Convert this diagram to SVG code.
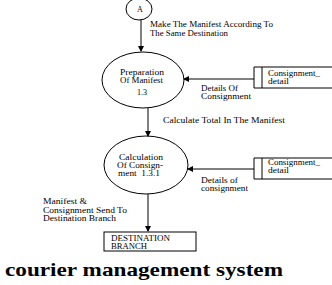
<svg xmlns="http://www.w3.org/2000/svg" width="332" height="285" viewBox="0 0 332 285">
<style>
.s{fill:none;stroke:#000;stroke-width:1}
.t{font-family:"Liberation Serif","Times New Roman",serif;font-size:8px;fill:#000}
.title{font-family:"Liberation Serif","Times New Roman",serif;font-size:19px;font-weight:bold;fill:#000}
</style>
<defs>
<marker id="ah" markerWidth="6" markerHeight="6" refX="5" refY="3" orient="auto" markerUnits="userSpaceOnUse">
<path d="M0,0 L6,3 L0,6 z" fill="#000"/>
</marker>
</defs>
<rect width="332" height="285" fill="#fff"/>
<g id="connectors">
<line class="s" x1="141" y1="20" x2="141" y2="51" marker-end="url(#ah)"/>
<line class="s" x1="254" y1="79" x2="184" y2="79" marker-end="url(#ah)"/>
<line class="s" x1="148" y1="108" x2="148" y2="136" marker-end="url(#ah)"/>
<line class="s" x1="254" y1="169" x2="188" y2="169" marker-end="url(#ah)"/>
<line class="s" x1="148" y1="194" x2="148" y2="231" marker-end="url(#ah)"/>
<text class="t" x="150" y="27" textLength="123" lengthAdjust="spacingAndGlyphs">Make The Manifest According To</text>
<text class="t" x="150" y="36" textLength="78" lengthAdjust="spacingAndGlyphs">The Same Destination</text>
<text class="t" x="201" y="91" textLength="37" lengthAdjust="spacingAndGlyphs">Details Of</text>
<text class="t" x="201" y="99" textLength="50" lengthAdjust="spacingAndGlyphs">Consignment</text>
<text class="t" x="163" y="123" textLength="122" lengthAdjust="spacingAndGlyphs">Calculate Total In The Manifest</text>
<text class="t" x="201" y="183" textLength="37" lengthAdjust="spacingAndGlyphs">Details of</text>
<text class="t" x="201" y="191" textLength="47" lengthAdjust="spacingAndGlyphs">consignment</text>
<text class="t" x="43" y="204" textLength="44" lengthAdjust="spacingAndGlyphs">Manifest &amp;</text>
<text class="t" x="43" y="213" textLength="84" lengthAdjust="spacingAndGlyphs">Consignment Send To</text>
<text class="t" x="43" y="221" textLength="73" lengthAdjust="spacingAndGlyphs">Destination Branch</text>
</g>
<g id="nodeA">
<ellipse class="s" cx="139" cy="9" rx="13" ry="11"/>
<text class="t" x="140" y="12" text-anchor="middle">A</text>
</g>
<g id="prep">
<ellipse class="s" cx="143" cy="80" rx="41" ry="28"/>
<text class="t" x="120" y="75" textLength="44" lengthAdjust="spacingAndGlyphs">Preparation</text>
<text class="t" x="120" y="83" textLength="43" lengthAdjust="spacingAndGlyphs">Of Manifest</text>
<text class="t" x="142" y="95" text-anchor="middle">1.3</text>
</g>
<g id="store1">
<path class="s" d="M332,67 H254 V88 H332 M262,67 V88"/>
<text class="t" x="268" y="76" textLength="52" lengthAdjust="spacingAndGlyphs">Consignment_</text>
<text class="t" x="268" y="84" textLength="21" lengthAdjust="spacingAndGlyphs">detail</text>
</g>
<g id="calc">
<ellipse class="s" cx="146" cy="165" rx="42" ry="29"/>
<text class="t" x="119" y="160" textLength="44" lengthAdjust="spacingAndGlyphs">Calculation</text>
<text class="t" x="117" y="168" textLength="46" lengthAdjust="spacingAndGlyphs">Of Consign-</text>
<text class="t" x="118" y="176" textLength="42" lengthAdjust="spacingAndGlyphs" xml:space="preserve">ment  1.3.1</text>
</g>
<g id="store2">
<path class="s" d="M332,158 H254 V179 H332 M262,158 V179"/>
<text class="t" x="268" y="165" textLength="52" lengthAdjust="spacingAndGlyphs">Consignment_</text>
<text class="t" x="268" y="173" textLength="21" lengthAdjust="spacingAndGlyphs">detail</text>
</g>
<g id="dest">
<rect class="s" x="104" y="232" width="92" height="19"/>
<text class="t" x="111" y="241" textLength="59" lengthAdjust="spacingAndGlyphs">DESTINATION</text>
<text class="t" x="111" y="249" textLength="36" lengthAdjust="spacingAndGlyphs">BRANCH</text>
</g>
<text class="title" x="5" y="276" textLength="278" lengthAdjust="spacingAndGlyphs">courier management system</text>
</svg>
